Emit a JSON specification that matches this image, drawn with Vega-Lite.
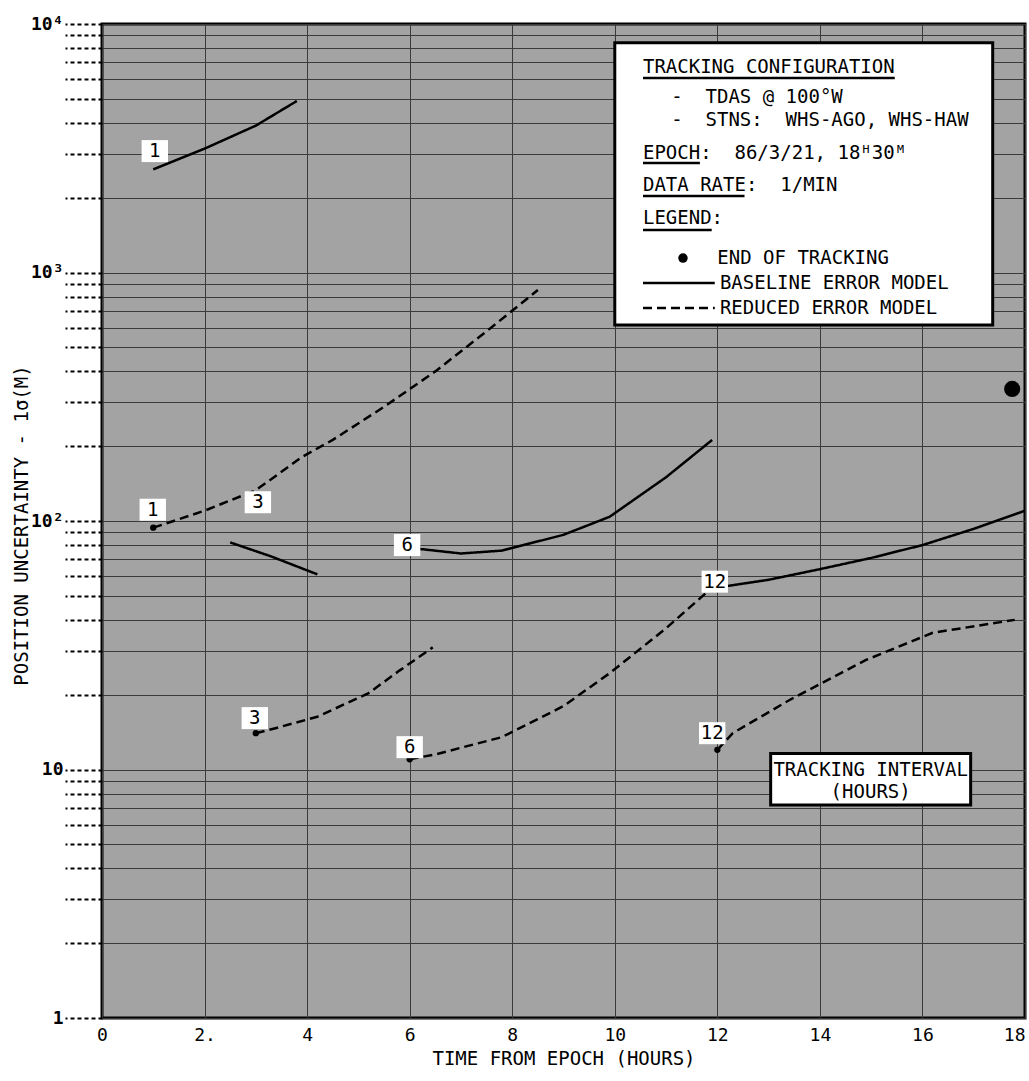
{
  "$schema": "https://vega.github.io/schema/vega-lite/v6.json",
  "width": 923,
  "height": 994,
  "autosize": {"type": "none"},
  "padding": {"left": 102, "top": 24, "right": 4, "bottom": 63},
  "background": "white",
  "config": {
    "view": {"fill": "#a3a3a3", "stroke": "black", "strokeWidth": 3},
    "font": "DejaVu Sans Mono"
  },
  "datasets": {
    "curves": [
      {"series": "B1", "model": "baseline", "t": 1, "v": 2600},
      {"series": "B1", "model": "baseline", "t": 2, "v": 3150},
      {"series": "B1", "model": "baseline", "t": 3, "v": 3900},
      {"series": "B1", "model": "baseline", "t": 3.8, "v": 4900},
      {"series": "R1", "model": "reduced", "t": 1, "v": 94},
      {"series": "R1", "model": "reduced", "t": 2, "v": 110},
      {"series": "R1", "model": "reduced", "t": 3, "v": 133},
      {"series": "R1", "model": "reduced", "t": 3.9, "v": 181},
      {"series": "R1", "model": "reduced", "t": 4.5, "v": 212},
      {"series": "R1", "model": "reduced", "t": 5.5, "v": 288},
      {"series": "R1", "model": "reduced", "t": 6.5, "v": 400},
      {"series": "R1", "model": "reduced", "t": 7.5, "v": 580},
      {"series": "R1", "model": "reduced", "t": 8.5, "v": 850},
      {"series": "S3", "model": "baseline", "t": 2.5, "v": 82},
      {"series": "S3", "model": "baseline", "t": 3.3, "v": 72},
      {"series": "S3", "model": "baseline", "t": 4.2, "v": 61},
      {"series": "B6", "model": "baseline", "t": 6, "v": 78},
      {"series": "B6", "model": "baseline", "t": 7, "v": 74},
      {"series": "B6", "model": "baseline", "t": 7.8, "v": 76},
      {"series": "B6", "model": "baseline", "t": 9, "v": 88},
      {"series": "B6", "model": "baseline", "t": 9.9, "v": 104},
      {"series": "B6", "model": "baseline", "t": 11, "v": 150},
      {"series": "B6", "model": "baseline", "t": 11.9, "v": 212},
      {"series": "B12", "model": "baseline", "t": 12, "v": 54},
      {"series": "B12", "model": "baseline", "t": 13, "v": 58},
      {"series": "B12", "model": "baseline", "t": 14, "v": 64},
      {"series": "B12", "model": "baseline", "t": 15, "v": 71},
      {"series": "B12", "model": "baseline", "t": 16, "v": 80},
      {"series": "B12", "model": "baseline", "t": 17, "v": 93},
      {"series": "B12", "model": "baseline", "t": 18, "v": 110},
      {"series": "R3", "model": "reduced", "t": 3, "v": 14},
      {"series": "R3", "model": "reduced", "t": 3.4, "v": 14.7},
      {"series": "R3", "model": "reduced", "t": 4.2, "v": 16.3},
      {"series": "R3", "model": "reduced", "t": 5.2, "v": 20.3},
      {"series": "R3", "model": "reduced", "t": 5.8, "v": 25},
      {"series": "R3", "model": "reduced", "t": 6.45, "v": 31},
      {"series": "R6", "model": "reduced", "t": 6, "v": 11},
      {"series": "R6", "model": "reduced", "t": 6.5, "v": 11.5},
      {"series": "R6", "model": "reduced", "t": 7.8, "v": 13.5},
      {"series": "R6", "model": "reduced", "t": 9, "v": 18},
      {"series": "R6", "model": "reduced", "t": 9.9, "v": 24.4},
      {"series": "R6", "model": "reduced", "t": 11, "v": 37},
      {"series": "R6", "model": "reduced", "t": 11.9, "v": 54},
      {"series": "R12", "model": "reduced", "t": 12, "v": 12},
      {"series": "R12", "model": "reduced", "t": 12.3, "v": 14},
      {"series": "R12", "model": "reduced", "t": 13.4, "v": 19},
      {"series": "R12", "model": "reduced", "t": 14.9, "v": 27.6},
      {"series": "R12", "model": "reduced", "t": 16.2, "v": 35.5},
      {"series": "R12", "model": "reduced", "t": 17.8, "v": 40}
    ],
    "ends": [
      {"t": 1, "v": 94, "kind": "small"},
      {"t": 3, "v": 14, "kind": "small"},
      {"t": 6, "v": 11, "kind": "small"},
      {"t": 12, "v": 12, "kind": "small"},
      {"t": 17.75, "v": 340, "kind": "big"}
    ],
    "labels": [
      {"t": 1.03, "v": 3080, "text": "1"},
      {"t": 0.99, "v": 111, "text": "1"},
      {"t": 3.04, "v": 119, "text": "3"},
      {"t": 2.98, "v": 16.1, "text": "3"},
      {"t": 5.95, "v": 80, "text": "6"},
      {"t": 6.0, "v": 12.3, "text": "6"},
      {"t": 11.95, "v": 57, "text": "12"},
      {"t": 11.9, "v": 14, "text": "12"}
    ],
    "boxes": [
      {"t": 10.0, "t2": 17.37, "v": 615, "v2": 8400},
      {"t": 13.04, "t2": 16.94, "v": 7.2, "v2": 11.6}
    ],
    "notesLeft": [
      {"t": 10.55, "v": 6710, "text": "TRACKING CONFIGURATION"},
      {"t": 11.1, "v": 5080, "text": "-\u00a0\u00a0TDAS @ 100°W"},
      {"t": 11.1, "v": 4110, "text": "-\u00a0\u00a0STNS:\u00a0\u00a0WHS-AGO, WHS-HAW"},
      {"t": 10.55, "v": 3030, "text": "EPOCH:\u00a0\u00a086/3/21, 18ᴴ30ᴹ"},
      {"t": 10.55, "v": 2250, "text": "DATA RATE:\u00a0\u00a01/MIN"},
      {"t": 10.55, "v": 1660, "text": "LEGEND:"},
      {"t": 12.0, "v": 1143, "text": "END OF TRACKING"},
      {"t": 12.05, "v": 907, "text": "BASELINE ERROR MODEL"},
      {"t": 12.05, "v": 720, "text": "REDUCED ERROR MODEL"}
    ],
    "notesCenter": [
      {"t": 14.99, "v": 9.95, "text": "TRACKING INTERVAL"},
      {"t": 14.99, "v": 8.1, "text": "(HOURS)"}
    ],
    "rules": [
      {"t": 10.55, "t2": 15.46, "v": 6070, "model": "baseline"},
      {"t": 10.55, "t2": 11.66, "v": 2760, "model": "baseline"},
      {"t": 10.55, "t2": 12.53, "v": 2030, "model": "baseline"},
      {"t": 10.55, "t2": 11.89, "v": 1483, "model": "baseline"},
      {"t": 10.55, "t2": 11.95, "v": 907, "model": "baseline"},
      {"t": 10.55, "t2": 11.95, "v": 720, "model": "reduced"}
    ],
    "legenddot": [
      {"t": 11.33, "v": 1143}
    ]
  },
  "encoding": {
    "x": {
      "field": "t",
      "type": "quantitative",
      "scale": {"domain": [0, 18], "nice": false, "zero": false},
      "axis": {
        "values": [0, 2, 4, 6, 8, 10, 12, 14, 16, 18],
        "labelExpr": "datum.value == 2 ? '2.' : datum.label",
        "labelAlign": {"expr": "datum.value == 18 ? 'right' : 'center'"},
        "grid": true,
        "gridColor": "#3a3a3a",
        "gridWidth": 1,
        "domain": false,
        "ticks": false,
        "labelFlush": false,
        "labelPadding": 8,
        "labelFontSize": 18,
        "labelColor": "black",
        "labelFont": "DejaVu Sans Mono",
        "title": "TIME FROM EPOCH (HOURS)",
        "titleFont": "DejaVu Sans Mono",
        "titleFontSize": 19,
        "titleFontWeight": "normal",
        "titleColor": "black",
        "titlePadding": 5
      }
    },
    "y": {
      "field": "v",
      "type": "quantitative",
      "scale": {"type": "log", "domain": [1, 10000], "nice": false},
      "axis": {
        "values": [1, 2, 3, 4, 5, 6, 7, 8, 9, 10, 20, 30, 40, 50, 60, 70, 80, 90, 100, 200, 300, 400, 500, 600, 700, 800, 900, 1000, 2000, 3000, 4000, 5000, 6000, 7000, 8000, 9000, 10000],
        "labelExpr": "datum.value == 10000 ? '10⁴' : datum.value == 1000 ? '10³' : datum.value == 100 ? '10²' : datum.value == 10 ? '10' : datum.value == 1 ? '1' : ''",
        "grid": true,
        "gridColor": "#3a3a3a",
        "gridWidth": 1,
        "domain": false,
        "tickSize": 37,
        "tickDash": [4, 3],
        "tickWidth": 2,
        "tickColor": "black",
        "labelPadding": 2,
        "labelFontSize": 18,
        "labelFontWeight": "bold",
        "labelColor": "black",
        "labelFont": "DejaVu Sans Mono",
        "title": "POSITION UNCERTAINTY - 1σ(M)",
        "titleFont": "DejaVu Sans Mono",
        "titleFontSize": 19,
        "titleFontWeight": "normal",
        "titleColor": "black",
        "titleX": -81,
        "titleY": 501,
        "titleAngle": -90,
        "titleAlign": "center",
        "titleBaseline": "middle"
      }
    }
  },
  "layer": [
    {
      "data": {"name": "boxes"},
      "mark": {"type": "rect", "fill": "white", "stroke": "black", "strokeWidth": 3},
      "encoding": {"x2": {"field": "t2"}, "y2": {"field": "v2"}}
    },
    {
      "data": {"name": "curves"},
      "mark": {"type": "line", "color": "black", "strokeWidth": 2.5, "clip": true},
      "encoding": {
        "detail": {"field": "series"},
        "strokeDash": {
          "field": "model",
          "type": "nominal",
          "scale": {"domain": ["baseline", "reduced"], "range": [[1, 0], [9, 5]]},
          "legend": null
        }
      }
    },
    {
      "data": {"name": "rules"},
      "mark": {"type": "rule", "color": "black", "strokeWidth": 2.5},
      "encoding": {
        "x2": {"field": "t2"},
        "strokeDash": {
          "field": "model",
          "type": "nominal",
          "scale": {"domain": ["baseline", "reduced"], "range": [[1, 0], [9, 5]]},
          "legend": null
        }
      }
    },
    {
      "data": {"name": "ends"},
      "mark": {"type": "point", "filled": true, "color": "black", "opacity": 1},
      "encoding": {
        "size": {
          "field": "kind",
          "type": "nominal",
          "scale": {"domain": ["small", "big"], "range": [40, 260]},
          "legend": null
        }
      }
    },
    {
      "data": {"name": "legenddot"},
      "mark": {"type": "point", "filled": true, "color": "black", "opacity": 1, "size": 90}
    },
    {
      "data": {"name": "labels"},
      "mark": {"type": "point", "shape": "M-1.2,-1H1.2V1H-1.2Z", "filled": true, "color": "white", "opacity": 1, "size": 484}
    },
    {
      "data": {"name": "labels"},
      "mark": {"type": "text", "font": "DejaVu Sans Mono", "fontSize": 19, "color": "black", "align": "center", "baseline": "middle"},
      "encoding": {"text": {"field": "text"}}
    },
    {
      "data": {"name": "notesLeft"},
      "mark": {"type": "text", "font": "DejaVu Sans Mono", "fontSize": 19, "color": "black", "align": "left", "baseline": "middle"},
      "encoding": {"text": {"field": "text"}}
    },
    {
      "data": {"name": "notesCenter"},
      "mark": {"type": "text", "font": "DejaVu Sans Mono", "fontSize": 19, "color": "black", "align": "center", "baseline": "middle"},
      "encoding": {"text": {"field": "text"}}
    }
  ]
}
